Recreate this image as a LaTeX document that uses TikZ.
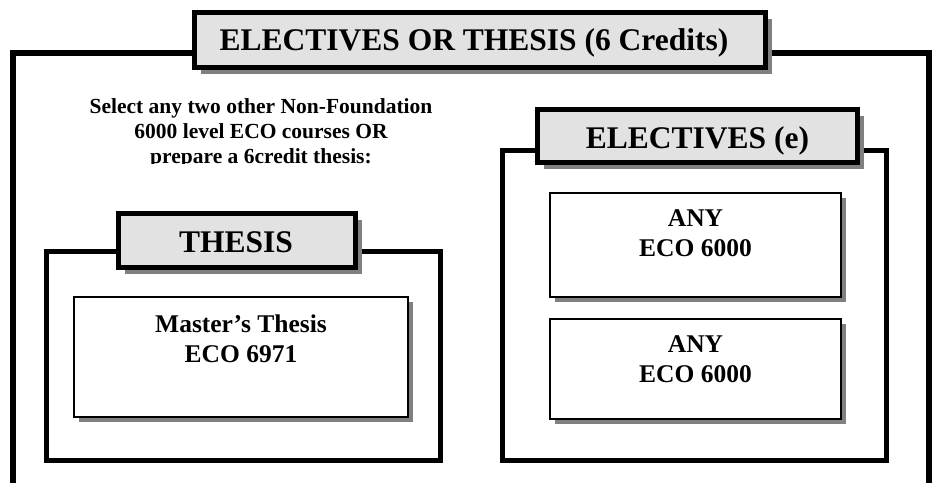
\documentclass[tikz,border=0pt]{standalone}
\usepackage{fontspec}
\setmainfont{Liberation Serif}
\usetikzlibrary{shadows}
\definecolor{shadowgray}{HTML}{808080}
\definecolor{stonefill}{HTML}{E2E2E2}
\tikzset{
  panel/.style={draw=black, line width=5pt},
  labelbox/.style={draw=black, line width=4.5pt, fill=stonefill, inner sep=0pt,
    drop shadow={shadow xshift=6pt, shadow yshift=-6pt, fill=shadowgray, opacity=1}},
  coursebox/.style={draw=black, line width=2pt, fill=white, inner sep=0pt,
    drop shadow={shadow xshift=5pt, shadow yshift=-5pt, fill=shadowgray, opacity=1}},
  bigtext/.style={font=\bfseries\fontsize{31.5}{36}\selectfont, inner sep=0pt, anchor=base},
  coursetext/.style={font=\bfseries\fontsize{25.5}{30}\selectfont, inner sep=0pt, anchor=north, align=center},
  notetext/.style={font=\bfseries\fontsize{21.5}{25}\selectfont, inner sep=0pt, anchor=north, align=center}
}
\begin{document}
\begin{tikzpicture}[x=1pt,y=-1pt]
\useasboundingbox (0,0) rectangle (934,483);
% outer frame (open at the bottom)
\coordinate (obl) at (13,483);
\coordinate (otl) at (13,53);
\coordinate (otr) at (929,53);
\coordinate (obr) at (929,483);
\draw[panel, line width=5.5pt] (obl) -- (otl) -- (otr) -- (obr);
% title
\node[labelbox, minimum width=571pt, minimum height=55pt] (titlebox) at (480,40) {};
\node[bigtext] (titletext) at (474,50) {ELECTIVES OR THESIS (6 Credits)};
% note text (clipped at the bottom as in the original)
\begin{scope}
\clip (20,80) rectangle (490,163.5);
\node[notetext] (note) at (261,98) {Select any two other Non-Foundation\\6000 level ECO courses OR\\prepare a 6credit thesis:};
\end{scope}
% thesis panel
\node[panel, minimum width=394pt, minimum height=209pt, inner sep=0pt] (thesispanel) at (243,355.5) {};
\node[labelbox, minimum width=237pt, minimum height=54pt] (thesislabel) at (237,240.5) {};
\node[bigtext] (thesistext) at (236,252) {THESIS};
\node[coursebox, minimum width=334pt, minimum height=120pt] (thesisbox) at (241,357) {};
\node[coursetext] (thesiscourse) at (241,315) {Master’s Thesis\\ECO 6971};
% electives panel
\node[panel, minimum width=384pt, minimum height=310pt, inner sep=0pt] (elecpanel) at (694,305) {};
\node[labelbox, minimum width=320pt, minimum height=53pt] (eleclabel) at (697.5,136) {};
\node[bigtext] (electext) at (697.5,148) {ELECTIVES (e)};
\node[coursebox, minimum width=291pt, minimum height=104pt] (elecboxa) at (695.5,245) {};
\node[coursetext] (eleccoursea) at (695.5,209) {ANY\\ECO 6000};
\node[coursebox, minimum width=291pt, minimum height=100pt] (elecboxb) at (695.5,369) {};
\node[coursetext] (eleccourseb) at (695.5,335) {ANY\\ECO 6000};
\end{tikzpicture}
\end{document}
